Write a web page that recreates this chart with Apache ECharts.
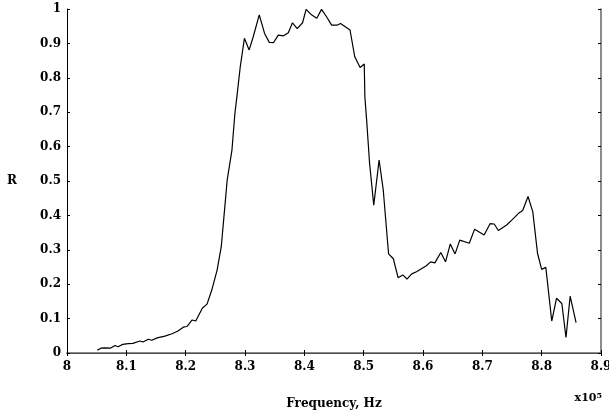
<!DOCTYPE html>
<html>
<head>
<meta charset="utf-8">
<script src="https://cdn.jsdelivr.net/npm/echarts@6/dist/echarts.min.js"></script>
<style>
  html, body { margin: 0; padding: 0; background: #fff; }
  #chart { width: 609px; height: 416px; }
</style>
</head>
<body>
<div id="chart"></div>
<script>
// frequency in units of 1e5 Hz
const freq = [
  8.051, 8.057, 8.064, 8.073, 8.081, 8.086, 8.094, 8.103, 8.111, 8.123,
  8.128, 8.137, 8.143, 8.152, 8.165, 8.177, 8.187, 8.196, 8.202, 8.211,
  8.217, 8.228, 8.236, 8.244, 8.253, 8.260, 8.265, 8.270, 8.278, 8.283,
  8.286, 8.292, 8.299, 8.307, 8.314, 8.324, 8.333, 8.341, 8.348, 8.356,
  8.365, 8.373, 8.380, 8.388, 8.397, 8.403, 8.405, 8.412, 8.421, 8.429,
  8.438, 8.446, 8.455, 8.461, 8.477, 8.485, 8.494, 8.501, 8.502, 8.505,
  8.510, 8.517, 8.526, 8.533, 8.542, 8.550, 8.558, 8.566, 8.573, 8.581,
  8.589, 8.605, 8.613, 8.620, 8.630, 8.638, 8.646, 8.654, 8.662, 8.678,
  8.687, 8.703, 8.713, 8.720, 8.727, 8.741, 8.750, 8.761, 8.768, 8.777,
  8.785, 8.793, 8.800, 8.807, 8.817, 8.825, 8.834, 8.841, 8.848, 8.858
]
const reflect = [
  0.008, 0.014, 0.015, 0.014, 0.022, 0.018, 0.025, 0.027, 0.028, 0.035,
  0.032, 0.040, 0.037, 0.044, 0.049, 0.056, 0.064, 0.075, 0.077, 0.096,
  0.093, 0.130, 0.142, 0.183, 0.241, 0.309, 0.406, 0.503, 0.590, 0.697,
  0.740, 0.832, 0.915, 0.881, 0.920, 0.983, 0.929, 0.903, 0.902, 0.924,
  0.922, 0.931, 0.960, 0.943, 0.960, 0.999, 0.994, 0.983, 0.973, 0.999,
  0.976, 0.953, 0.953, 0.958, 0.939, 0.861, 0.830, 0.840, 0.745, 0.677,
  0.551, 0.430, 0.561, 0.474, 0.288, 0.274, 0.219, 0.227, 0.215, 0.230,
  0.236, 0.253, 0.265, 0.262, 0.292, 0.265, 0.317, 0.288, 0.328, 0.319,
  0.360, 0.343, 0.376, 0.375, 0.356, 0.372, 0.387, 0.406, 0.414, 0.455,
  0.411, 0.290, 0.243, 0.249, 0.093, 0.159, 0.144, 0.045, 0.165, 0.088
]

const font = 'DejaVu Serif'
const chart = echarts.init(document.getElementById('chart'))
const hidden = { show: false }
const txt = { fontFamily: font, fontSize: 12, fontWeight: 'bold', color: '#000' }

chart.setOption({
  backgroundColor: '#fff',
  animation: false,
  grid: { left: 67, right: 8, top: 9, bottom: 63, outerBoundsMode: 'none' },
  title: {
    text: 'x10{s|5}',
    right: 2,
    bottom: 7,
    textStyle: {
      ...txt, fontSize: 11,
      rich: { s: { fontFamily: font, fontSize: 8, fontWeight: 'bold', verticalAlign: 'top', padding: [0, 0, 6, 0] } }
    }
  },
  xAxis: [
    {
      type: 'value',
      min: 8,
      max: 8.9,
      interval: 0.1,
      name: 'Frequency, Hz',
      nameLocation: 'middle',
      nameGap: 45,
      nameTextStyle: txt,
      axisLine: { lineStyle: { color: '#000', width: 1 } },
      axisTick: { inside: true, length: 3, lineStyle: { color: '#000' } },
      axisLabel: { ...txt, margin: 8 },
      splitLine: hidden
    },
    {
      type: 'value',
      position: 'top',
      min: 8,
      max: 8.9,
      interval: 0.1,
      axisLine: { lineStyle: { color: '#666', width: 1.5 } },
      axisTick: { inside: true, length: 3, lineStyle: { color: '#000' } },
      axisLabel: hidden,
      splitLine: hidden
    }
  ],
  yAxis: [
    {
      type: 'value',
      min: 0,
      max: 1,
      interval: 0.1,
      name: 'R',
      nameLocation: 'middle',
      nameRotate: 0,
      nameGap: 50,
      nameTextStyle: txt,
      axisLine: { show: true, lineStyle: { color: '#000', width: 1 } },
      axisTick: { show: true, inside: true, length: 3, lineStyle: { color: '#000' } },
      axisLabel: { ...txt, margin: 6 },
      splitLine: hidden
    },
    {
      type: 'value',
      position: 'right',
      min: 0,
      max: 1,
      interval: 0.1,
      axisLine: { show: true, lineStyle: { color: '#666', width: 1.5 } },
      axisTick: { show: true, inside: true, length: 3, lineStyle: { color: '#000' } },
      axisLabel: hidden,
      splitLine: hidden
    }
  ],
  series: [
    {
      type: 'line',
      data: freq.map((f, i) => [f, reflect[i]]),
      showSymbol: false,
      lineStyle: { color: '#000', width: 1.2 },
      silent: true
    }
  ]
})
</script>
</body>
</html>
